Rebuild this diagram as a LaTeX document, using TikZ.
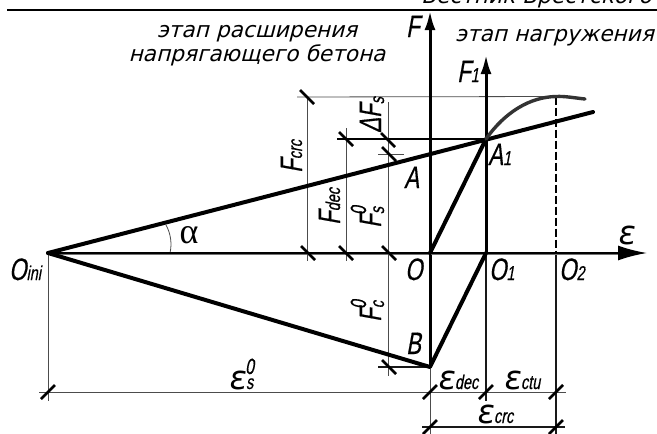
\documentclass[tikz,border=0pt]{standalone}
\usepackage{fontspec}
\setmainfont{Liberation Sans}
\newfontfamily\labf[FakeStretch=0.72,FakeSlant=0.18,FakeBold=0.4]{Liberation Sans}
\newfontfamily\epsf[FakeStretch=1.0,FakeSlant=0.15]{DejaVu Sans}
\newfontfamily\headf[FakeSlant=0.26]{DejaVu Sans}
\newfontfamily\alphaf{Liberation Serif}
\usetikzlibrary{arrows.meta,calc}
\newcommand{\BigL}[1]{{\labf\fontsize{31}{31}\selectfont #1}}
\newcommand{\SbL}[1]{{\labf\fontsize{20}{20}\selectfont #1}}
\newcommand{\LowS}[1]{\raisebox{-3pt}{\labf\fontsize{20}{20}\selectfont #1}}
\newcommand{\EpsL}{{\epsf\fontsize{33}{33}\selectfont ε}}
\newcommand{\SupL}[1]{\raisebox{15pt}{\labf\fontsize{22}{22}\selectfont #1}}
\tikzset{
  x=1pt,y=-1pt,
  thick line/.style={line width=4pt,black,line cap=round},
  axis line/.style={line width=3pt,black},
  thin line/.style={line width=0.8pt,black!70},
  dark line/.style={line width=1.2pt,black!90},
  tick mark/.style={line width=2.6pt,black},
  heading/.style={inner sep=0pt,font=\headf\fontsize{21.7}{24}\selectfont,align=center},
  lbl/.style={inner sep=0pt,anchor=base west},
  rlbl/.style={inner sep=0pt,anchor=base west,rotate=90},
}
\newcommand{\slashtick}[2]{\draw[tick mark] (#1-7,#2+7) -- (#1+7,#2-7);}
\newcommand{\backtick}[2]{\draw[tick mark] (#1-7,#2-7) -- (#1+7,#2+7);}
\begin{document}
\begin{tikzpicture}
\useasboundingbox[fill=white] (0,0) rectangle (657,434);
\coordinate (Oini) at (48,253);
\coordinate (O) at (430,253);
\coordinate (O1) at (486,253);
\coordinate (O2) at (556,253);
\coordinate (Aone) at (486,139);
\coordinate (B) at (430,367);
\coordinate (Aend) at (593,112);
\coordinate (Ftop) at (430,11);
\coordinate (Fonetop) at (486,55);
\coordinate (Eend) at (647,253);
\coordinate (peak) at (556,96.5);
\coordinate (cend) at (585,99);
\clip (0,0) rectangle (657,434);
% top rule and running head
\coordinate (ruleL) at (7,9.5);
\coordinate (ruleR) at (657,9.5);
\draw[line width=2pt] (ruleL) -- (ruleR);
\node[inner sep=0pt,anchor=base east,font=\headf\fontsize{21.7}{21}\selectfont] (head) at (652,3) {Вестник Брестского};
% thin dimension lines
\draw[thin line] (297,97) -- (peak);
\draw[thin line] (307,97) -- (307,261);
\draw[thin line] (346,128) -- (346,261);
\draw[thin line] (388,102) -- (388,376);
\draw[line width=1.5pt] (337,139) -- (Aone);
\draw[thin line] (378,154) -- (404,154);
\draw[dark line] (378,367) -- (B);
\draw[thin line] (Oini) -- (48,401);
\draw[thin line] (39,392) -- (566,392);
\draw[thin line] (B) -- (430,434);
\draw[dark line] (O1) -- (486,401);
\draw[dark line] (O2) -- (556,434);
\draw[dark line] (422,427) -- (565,427);
% angle arc
\coordinate (arcA) at (166,225);
\coordinate (arcB) at (170,253);
\draw[thin line] (arcA) .. controls (171,234) and (172,244) .. (arcB);
% dashed
\draw[line width=1.5pt,dash pattern=on 8pt off 3pt] (peak) -- (O2);
% axes
\draw[axis line,-{Latex[length=19pt,width=11pt]}] (B) -- (Ftop);
\draw[axis line,-{Latex[length=19pt,width=11pt]}] (O1) -- (Fonetop);
\draw[line width=1.5pt,black!55] (48,254.5) -- (630,254.5);
\draw[line width=2pt,black,-{Latex[length=29pt,width=15pt]}] (48,253) -- (Eend);
% heavy lines
\draw[thick line] (Oini) -- (Aend);
\draw[thick line,line join=round] (Oini) -- (B) -- (O1);
\draw[thick line] (O) -- (Aone);
\draw[line width=3.4pt,black!80,line cap=round] (Aone) .. controls (505,112) and (530,97) .. (peak) .. controls (565,96) and (575,98) .. (cend);
% ticks
\backtick{307}{97}
\backtick{308}{253}
\backtick{346}{139}
\backtick{346}{253}
\backtick{389}{253}
\backtick{389}{154}
\backtick{388}{140}
\backtick{389}{367}
\slashtick{48}{392}
\slashtick{430}{392}
\slashtick{486}{392}
\slashtick{556}{392}
\slashtick{430}{427}
\slashtick{556}{427}
% headings
\node[heading] (h1) at (257,46) {этап расширения\\напрягающего бетона};
\node[heading,anchor=base east] (h2) at (654,41) {этап нагружения};
% labels
\node[lbl] (lF) at (406,37) {\BigL{F}};
\node[lbl] (lF1) at (457,82) {\BigL{F}\SbL{1}};
\node[lbl] (lA) at (404,188) {\BigL{A}};
\node[lbl] (lA1) at (488,165) {\BigL{A}\SbL{1}};
\node[lbl] (lO) at (405,280) {\BigL{O}};
\node[lbl] (lO1) at (489,280) {\BigL{O}\SbL{1}};
\node[lbl] (lO2) at (559,280) {\BigL{O}\SbL{2}};
\node[lbl] (lB) at (406,354) {\BigL{B}};
\node[lbl] (lOini) at (9,280) {\BigL{O}\SbL{ini}};
\node[inner sep=0pt,font=\alphaf\fontsize{36}{36}\selectfont] (lalpha) at (189,235) {α};
\node[lbl] (leps) at (617,244) {\EpsL};
\node[lbl] (lEs) at (228,389) {\EpsL\SbL{s}\kern-8pt\SupL{0}};
\node[lbl] (lEdec) at (437,389) {\EpsL\SbL{dec}};
\node[lbl] (lEctu) at (503,389) {\EpsL\SbL{ctu}};
\node[lbl] (lEcrc) at (476,423) {\EpsL\SbL{crc}};
\node[rlbl] (lFcrc) at (302,173) {\BigL{F}\SbL{crc}};
\node[rlbl] (lFdec) at (340,225) {\BigL{F}\SbL{dec}};
\node[rlbl] (lFs) at (381,228) {\BigL{F}\LowS{s}\kern-8pt\SupL{0}};
\node[rlbl] (lFc) at (381,322) {\BigL{F}\LowS{c}\kern-8pt\SupL{0}};
\node[rlbl] (lDF) at (381,133) {\BigL{ΔF}\LowS{s}};
\end{tikzpicture}
\end{document}
